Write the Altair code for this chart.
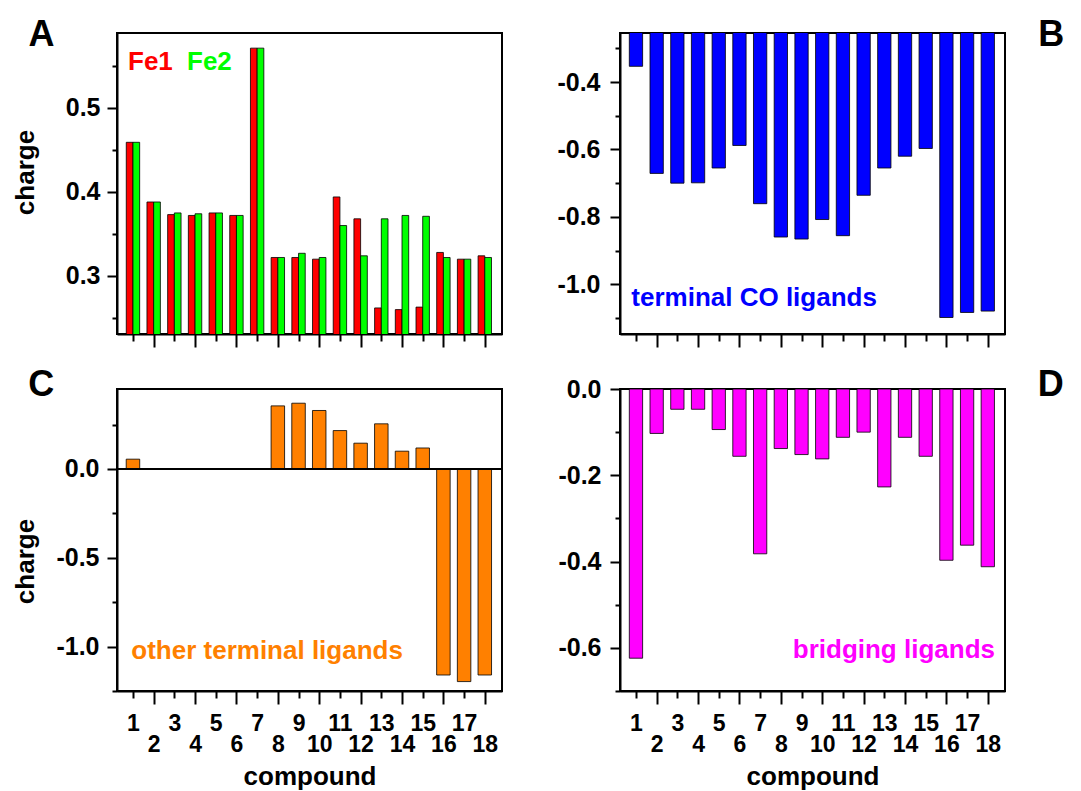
import altair as alt
import pandas as pd

# Partial charges for the 18 diiron compounds
compounds = list(range(1, 19))
fe1_charge = [0.459, 0.388, 0.373, 0.372, 0.375, 0.372, 0.571, 0.322, 0.322,
              0.320, 0.394, 0.368, 0.262, 0.260, 0.263, 0.328, 0.320, 0.324]
fe2_charge = [0.459, 0.388, 0.375, 0.374, 0.375, 0.372, 0.571, 0.322, 0.327,
              0.322, 0.360, 0.324, 0.368, 0.372, 0.371, 0.322, 0.320, 0.322]
terminal_co = [-0.353, -0.671, -0.700, -0.699, -0.655, -0.588, -0.761, -0.860, -0.866,
               -0.808, -0.856, -0.736, -0.655, -0.620, -0.597, -1.099, -1.084, -1.080]
other_terminal = [0.055, 0.0, 0.0, 0.0, 0.0, 0.0, 0.0, 0.355, 0.370,
                  0.329, 0.216, 0.145, 0.254, 0.100, 0.118, -1.160, -1.197, -1.160]
bridging = [-0.624, -0.103, -0.047, -0.047, -0.094, -0.156, -0.382, -0.138, -0.152,
            -0.162, -0.112, -0.100, -0.227, -0.112, -0.156, -0.397, -0.362, -0.412]

df = pd.DataFrame({
    "compound": compounds,
    "fe1": fe1_charge,
    "fe2": fe2_charge,
    "terminal_co": terminal_co,
    "other_terminal": other_terminal,
    "bridging": bridging,
})

FONT = "Liberation Sans"
W = 385
H_TOP = 301
H_BOTTOM = 302
X_DOMAIN = [0.47, 18.59]
EVEN = "datum.value % 2 == 0"


def x_axis(with_labels):
    kw = dict(
        values=compounds, grid=False,
        domainColor="black", domainWidth=2,
        tickColor="black", tickWidth=2,
        tickSize={"condition": {"test": EVEN, "value": 13}, "value": 7},
    )
    if with_labels:
        kw.update(
            title="compound", labelFont=FONT, labelFontWeight="bold",
            labelFontSize=23, labelColor="black", labelOverlap=False,
            labelFlush=False, labelBound=False, labelBaseline="top",
            labelPadding={"condition": {"test": EVEN, "value": 29}, "value": 14},
            titleFont=FONT, titleFontWeight="bold", titleFontSize=26,
            titleColor="black", titleY=93, titleBaseline="alphabetic",
        )
    else:
        kw.update(title=None, labels=False)
    return alt.Axis(**kw)


def y_axis(values, per_unit, title=None, title_y=None, pad=8):
    major = f"abs(datum.value*{per_unit} - round(datum.value*{per_unit})) < 0.001"
    kw = dict(
        values=values, grid=False,
        domainColor="black", domainWidth=2,
        tickColor="black", tickWidth=2,
        tickSize={"condition": {"test": major, "value": 10}, "value": 5},
        labelExpr=f"{major} ? (datum.value < 0 ? '-' : '') + format(abs(datum.value), '.1f') : ''",
        labelFont=FONT, labelFontWeight="bold", labelFontSize=25,
        labelColor="black", labelPadding=pad, labelOverlap=False,
        labelFlush=False, labelBound=False,
    )
    if title:
        kw.update(title=title, titleFont=FONT, titleFontWeight="bold",
                  titleFontSize=26, titleColor="black", titleX=-92,
                  titleY=title_y, titleBaseline="middle", titleAngle=-90)
    else:
        kw.update(title=None)
    return alt.Axis(**kw)


def text_layer(label, x, y, color, size, align="left", baseline="alphabetic"):
    return alt.Chart(pd.DataFrame({"label": [label]})).mark_text(
        font=FONT, fontWeight="bold", fontSize=size, color=color,
        align=align, baseline=baseline,
    ).encode(text="label:N", x=alt.value(x), y=alt.value(y))


xscale = alt.Scale(domain=X_DOMAIN, nice=False, zero=False)
base = alt.Chart(df)

# Panel A: Fe1 / Fe2 charges, paired bars
ya = alt.Y("fe1:Q", scale=alt.Scale(domain=[0.231, 0.589], nice=False, zero=False),
           axis=y_axis([0.25, 0.3, 0.35, 0.4, 0.45, 0.5, 0.55], 10, "charge", 139, pad=7))
bars_fe1 = base.mark_bar(width=6.7, xOffset=-3.35, color="#ff0000", stroke="black",
                         strokeWidth=0.8, clip=True).encode(
    x=alt.X("compound:Q", scale=xscale, axis=x_axis(False)), y=ya)
bars_fe2 = base.mark_bar(width=6.7, xOffset=3.35, color="#00ff00", stroke="black",
                         strokeWidth=0.8, clip=True).encode(
    x=alt.X("compound:Q", scale=xscale, axis=x_axis(False)), y=alt.Y("fe2:Q"))
panel_a = alt.layer(
    bars_fe1, bars_fe2,
    text_layer("Fe1", 11, 36.5, "#ff0000", 26),
    text_layer("Fe2", 70, 36.5, "#00ff00", 26),
    text_layer("A", -75.5, 13, "black", 36, align="center"),
).properties(width=W, height=H_TOP)

# Panel B: terminal CO ligands
panel_b = alt.layer(
    base.mark_bar(width=13.3, color="#0000ff", stroke="black", strokeWidth=0.8,
                  clip=True).encode(
        x=alt.X("compound:Q", scale=xscale, axis=x_axis(False)),
        y=alt.Y("terminal_co:Q",
                scale=alt.Scale(domain=[-1.148, -0.254], nice=False, zero=False),
                axis=y_axis([-1.1, -1.0, -0.9, -0.8, -0.7, -0.6, -0.5, -0.4, -0.3], 5, pad=10)),
    ),
    text_layer("terminal CO ligands", 11.3, 273, "#0000ff", 26),
    text_layer("B", 431.3, 13, "black", 36, align="center"),
).properties(width=W, height=H_TOP)

# Panel C: other terminal ligands
panel_c = alt.layer(
    base.mark_bar(width=13.5, color="#ff8000", stroke="black", strokeWidth=0.8,
                  clip=True).encode(
        x=alt.X("compound:Q", scale=xscale, axis=x_axis(True)),
        y=alt.Y("other_terminal:Q",
                scale=alt.Scale(domain=[-1.25, 0.45], nice=False, zero=False),
                axis=y_axis([-1.25, -1.0, -0.75, -0.5, -0.25, 0.0, 0.25], 2, "charge", 172)),
    ),
    base.mark_rule(color="black", strokeWidth=2).encode(y=alt.datum(0)),
    text_layer("other terminal ligands", 14.3, 269.5, "#ff8000", 26),
    text_layer("C", -75.7, 7, "black", 36, align="center"),
).properties(width=W, height=H_BOTTOM)

# Panel D: bridging ligands
panel_d = alt.layer(
    base.mark_bar(width=13.3, color="#ff00ff", stroke="black", strokeWidth=0.8,
                  clip=True).encode(
        x=alt.X("compound:Q", scale=xscale, axis=x_axis(True)),
        y=alt.Y("bridging:Q",
                scale=alt.Scale(domain=[-0.7, 0.0], nice=False, zero=False),
                axis=y_axis([-0.7, -0.6, -0.5, -0.4, -0.3, -0.2, -0.1, 0.0], 5, pad=9)),
    ),
    text_layer("bridging ligands", 375, 269, "#ff00ff", 26, align="right"),
    text_layer("D", 430.7, 7.3, "black", 36, align="center"),
).properties(width=W, height=H_BOTTOM)

chart = alt.concat(
    panel_a, panel_b, panel_c, panel_d,
    columns=2, spacing={"row": 55, "column": 118}, bounds="flush",
).configure_view(stroke="black", strokeWidth=2).properties(
    padding={"left": 10, "top": 16, "right": 0, "bottom": 0},
    background="white",
)

chart.save("out.html", embed_options={"renderer": "svg", "actions": False})
